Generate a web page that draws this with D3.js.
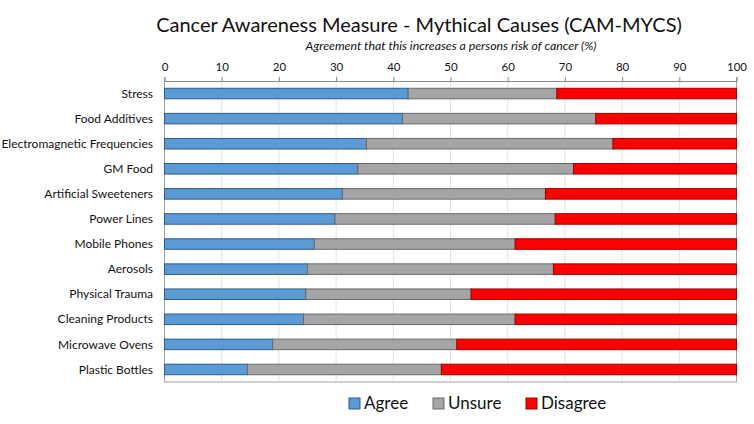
<!DOCTYPE html>
<html><head><meta charset="utf-8">
<script src="https://cdn.jsdelivr.net/npm/d3@7"></script>
<style>body{margin:0;background:#fff}svg{display:block}text{font-family:Lato,"Open Sans",sans-serif;fill:#111}</style>
</head><body><svg id="c" width="754" height="424"></svg>
<script>
const categories = ["Stress","Food Additives","Electromagnetic Frequencies","GM Food","Artificial Sweeteners","Power Lines","Mobile Phones","Aerosols","Physical Trauma","Cleaning Products","Microwave Ovens","Plastic Bottles"];
const agree    = [42.6, 41.6, 35.3, 33.8, 31.1, 29.8, 26.2, 25.0, 24.7, 24.3, 18.9, 14.5];
const unsure   = [26.0, 33.8, 43.1, 37.7, 35.5, 38.5, 35.1, 43.0, 28.9, 37.0, 32.2, 33.9];
const disagree = [31.4, 24.6, 21.6, 28.5, 33.4, 31.7, 38.7, 32.0, 46.4, 38.7, 48.9, 51.6];
const seriesNames = ["Agree","Unsure","Disagree"];
const tickValues = [0,10,20,30,40,50,60,70,80,90,100];

const colors = {Agree:"#5b9bd5", Unsure:"#a5a5a5", Disagree:"#ff0000"};
const strokes = {Agree:"#2f5a85", Unsure:"#6a6a6a", Disagree:"#a00000"};

const svg = d3.select("#c");
const m = {l:164.5, r:736.5, t:81, b:382};
const x = d3.scaleLinear().domain([0,100]).range([m.l, m.r]);
const y = d3.scaleBand().domain(categories).range([m.t, m.b]).paddingInner(0.58).paddingOuter(0.29);

// gridlines
svg.append("g").selectAll("line").data(tickValues.slice(1,-1)).join("line")
  .attr("x1", d=>x(d)).attr("x2", d=>x(d)).attr("y1", m.t).attr("y2", m.b)
  .attr("stroke","#e3e3e3").attr("stroke-width",1);

// plot frame lines (left, bottom, right)
svg.append("path").attr("d", `M${m.l},${m.t}V${m.b}H${m.r}V${m.t}`)
  .attr("fill","none").attr("stroke","#a0a0a0").attr("stroke-width",1);

const table = categories.map((c,i)=>({cat:c, Agree:agree[i], Unsure:unsure[i], Disagree:disagree[i]}));
const stack = d3.stack().keys(seriesNames)(table);

svg.append("g").selectAll("g").data(stack).join("g")
  .attr("fill", d=>colors[d.key]).attr("stroke", d=>strokes[d.key]).attr("stroke-width",1)
  .selectAll("rect").data(d=>d).join("rect")
  .attr("x", d=>x(d[0])).attr("width", d=>x(Math.min(100,d[1]))-x(d[0]))
  .attr("y", d=>y(d.data.cat)).attr("height", y.bandwidth());

// top axis
const ax = svg.append("g").attr("transform",`translate(0,${m.t})`)
  .call(d3.axisTop(x).tickValues(tickValues).tickSize(4).tickPadding(6));
ax.select(".domain").attr("stroke","#888");
ax.selectAll(".tick line").attr("stroke","#888");
ax.selectAll(".tick text").style("font-size","11.5px").style("font-family","Lato, sans-serif").attr("fill","#222");

// category labels
svg.append("g").selectAll("text").data(categories).join("text")
  .attr("x", 153).attr("y", d=>y(d)+y.bandwidth()/2).attr("dy","0.35em")
  .attr("text-anchor","end").style("font-size","12px").text(d=>d);

// title
svg.append("text").attr("x", 419).attr("y", 32).attr("text-anchor","middle")
  .style("font-size","20px").text("Cancer Awareness Measure - Mythical Causes (CAM-MYCS)");
svg.append("text").attr("x", 451).attr("y", 50).attr("text-anchor","middle")
  .style("font-size","12.3px").style("font-style","italic")
  .text("Agreement that this increases a persons risk of cancer (%)");

// legend
const legX = [349, 433, 526];
const lg = svg.append("g").selectAll("g").data(seriesNames).join("g")
  .attr("transform",(d,i)=>`translate(${legX[i]},398)`);
lg.append("rect").attr("width",11).attr("height",11)
  .attr("fill",d=>colors[d]).attr("stroke",d=>strokes[d]);
lg.append("text").attr("x",15).attr("y",11).style("font-size","17px").text(d=>d);
</script></body></html>
